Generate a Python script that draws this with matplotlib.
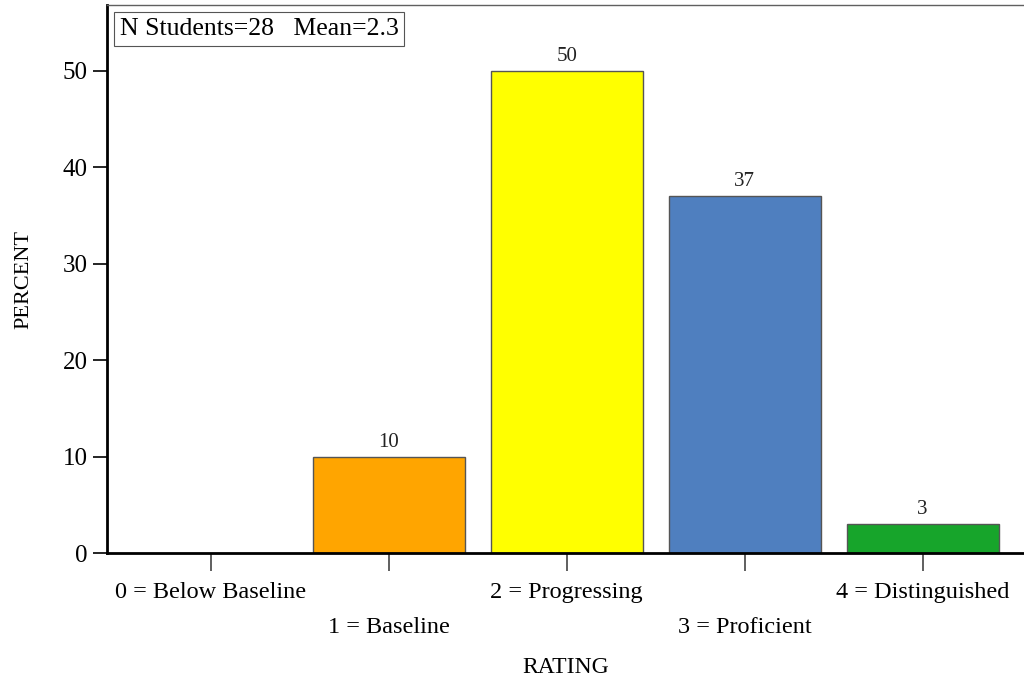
import matplotlib
matplotlib.use("Agg")
import matplotlib.pyplot as plt

categories = ["0 = Below Baseline", "1 = Baseline", "2 = Progressing",
              "3 = Proficient", "4 = Distinguished"]
percent = [0, 10, 50, 37, 3]
bar_colors = ["#FFA500", "#FFA500", "#FFFF00", "#4F7FBF", "#17A52B"]
n_students = 28
mean_rating = 2.3

plt.rcParams["font.family"] = ["Liberation Serif", "DejaVu Serif"]

fig = plt.figure(figsize=(10.24, 6.83), dpi=100, facecolor="white")
ax = fig.add_axes([0.1045, 0.1903, 0.8955, 0.8024])

x = list(range(len(categories)))
for xi, val, col in zip(x, percent, bar_colors):
    if val <= 0:
        continue
    ax.bar(xi, val, width=0.855, color=col, edgecolor="#555555",
           linewidth=1.0, zorder=2)
    ax.text(xi, val + 0.5, f"{val}", ha="center", va="bottom",
            fontsize=15, color="#222222")

ax.set_xlim(-0.584, 4.57)
ax.set_ylim(0, 56.8)
ax.set_yticks([0, 10, 20, 30, 40, 50])
ax.tick_params(axis="y", direction="out", length=10, width=1.2,
               labelsize=18, pad=4)

ax.set_xticks(x)
ax.set_xticklabels([c if i % 2 == 0 else "\n" + c
                    for i, c in enumerate(categories)])
for lbl in ax.get_xticklabels():
    lbl.set_linespacing(1.85)
ax.tick_params(axis="x", direction="out", length=13, width=1.2,
               color="#444444", labelsize=17.5, pad=8)

ax.spines["right"].set_visible(False)
ax.spines["top"].set_color("#606060")
ax.spines["top"].set_linewidth(1.0)
ax.spines["left"].set_linewidth(2.0)
ax.spines["bottom"].set_linewidth(2.0)
ax.spines["bottom"].set_zorder(3)

ax.set_ylabel("PERCENT", fontsize=16, labelpad=21)
ax.set_xlabel("RATING", fontsize=17, labelpad=14)

ax.text(0.014, 0.976, f"N Students={n_students}   Mean={mean_rating}",
        transform=ax.transAxes, ha="left", va="top", fontsize=18.5,
        bbox=dict(boxstyle="square,pad=0.22", facecolor="white",
                  edgecolor="#555555", linewidth=0.8))

fig.savefig("out.png", dpi=100, facecolor="white")
